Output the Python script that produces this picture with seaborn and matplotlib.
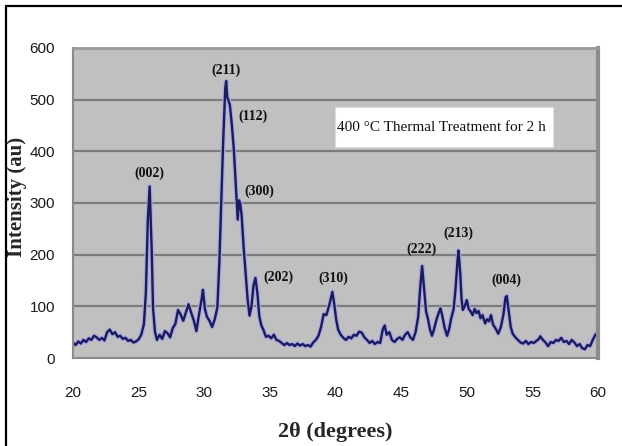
import matplotlib
matplotlib.use("Agg")
import matplotlib.pyplot as plt
import seaborn as sns
import pandas as pd
from matplotlib.patches import Rectangle

# ---- data ----
two_theta = [20.0, 20.2, 20.4, 20.6, 20.8, 21.0, 21.2, 21.4, 21.6, 21.8, 22.0, 22.2, 22.4, 22.6, 22.8,
             23.0, 23.2, 23.4, 23.6, 23.8, 24.0, 24.2, 24.4, 24.6, 24.8, 25.0, 25.2, 25.4, 25.55, 25.7,
             25.84, 26.0, 26.1, 26.25, 26.4, 26.6, 26.8, 27.0, 27.2, 27.4, 27.6, 27.8, 28.0, 28.2, 28.4,
             28.6, 28.8, 29.0, 29.2, 29.4, 29.6, 29.8, 29.9, 30.05, 30.2, 30.4, 30.6, 30.8, 31.0, 31.15,
             31.3, 31.45, 31.6, 31.67, 31.75, 31.85, 31.95, 32.1, 32.25, 32.4, 32.55, 32.65, 32.75, 32.85,
             33.0, 33.15, 33.3, 33.45, 33.6, 33.75, 33.9, 34.05, 34.2, 34.35, 34.5, 34.7, 34.9, 35.1, 35.3,
             35.5, 35.7, 35.9, 36.1, 36.3, 36.5, 36.7, 36.9, 37.1, 37.3, 37.5, 37.7, 37.9, 38.1, 38.3,
             38.5, 38.7, 38.9, 39.1, 39.3, 39.5, 39.6, 39.76, 39.9, 40.05, 40.2, 40.4, 40.6, 40.8, 41.0,
             41.2, 41.4, 41.6, 41.8, 42.0, 42.2, 42.4, 42.6, 42.8, 43.0, 43.2, 43.4, 43.6, 43.75, 43.9,
             44.1, 44.3, 44.5, 44.7, 44.9, 45.1, 45.3, 45.5, 45.7, 45.9, 46.1, 46.3, 46.45, 46.6, 46.75,
             46.9, 47.05, 47.2, 47.35, 47.5, 47.7, 47.9, 48.0, 48.15, 48.3, 48.5, 48.65, 48.8, 49.0, 49.15,
             49.3, 49.37, 49.5, 49.6, 49.7, 49.85, 50.0, 50.15, 50.3, 50.45, 50.6, 50.75, 50.9, 51.05, 51.2,
             51.4, 51.55, 51.7, 51.85, 52.0, 52.2, 52.4, 52.6, 52.8, 52.95, 53.05, 53.2, 53.35, 53.5, 53.7,
             53.9, 54.1, 54.3, 54.5, 54.7, 54.9, 55.1, 55.3, 55.5, 55.6, 55.8, 56.0, 56.2, 56.4, 56.6,
             56.8, 57.0, 57.2, 57.4, 57.6, 57.8, 58.0, 58.2, 58.4, 58.6, 58.8, 59.0, 59.2, 59.4, 59.6,
             59.8, 60.0]
intensity = [30, 25, 32, 28, 35, 31, 38, 35, 43, 40, 35, 39, 34, 50, 55,
             46, 50, 41, 43, 37, 39, 33, 35, 30, 32, 36, 45, 65, 125, 265,
             332, 205, 95, 50, 35, 45, 37, 52, 48, 40, 58, 66, 93, 84, 72,
             88, 104, 88, 73, 52, 84, 114, 132, 95, 80, 72, 60, 75, 98, 185,
             305, 425, 522, 536, 505, 498, 490, 452, 405, 335, 268, 305, 298, 275,
             215, 165, 115, 82, 100, 140, 155, 125, 80, 63, 55, 41, 43, 38, 45,
             35, 33, 29, 25, 29, 25, 27, 23, 28, 24, 27, 23, 25, 22, 30,
             35, 43, 60, 85, 83, 100, 110, 128, 105, 75, 55, 45, 39, 35, 41,
             38, 45, 43, 51, 49, 40, 35, 29, 33, 27, 31, 29, 55, 63, 45,
             50, 35, 31, 37, 40, 35, 45, 50, 40, 35, 50, 80, 135, 178, 135,
             90, 75, 55, 43, 55, 75, 90, 96, 80, 60, 43, 55, 75, 95, 135,
             190, 208, 165, 115, 93, 100, 112, 95, 90, 83, 95, 87, 91, 77, 83,
             67, 75, 71, 83, 65, 57, 47, 60, 85, 117, 120, 90, 60, 47, 40,
             35, 30, 28, 33, 27, 31, 29, 33, 37, 42, 35, 30, 23, 31, 29,
             35, 33, 39, 31, 33, 27, 35, 30, 23, 27, 19, 17, 25, 23, 35,
             45, 50]

peak_labels = ["(002)", "(211)", "(112)", "(300)", "(202)", "(310)", "(222)", "(213)", "(004)"]
label_x = [25.84, 31.68, 33.7, 34.2, 35.62, 39.8, 46.53, 49.4, 53.04]
label_y = [358, 557, 467, 322, 157, 154, 211, 241, 151]

x_ticks = [20, 25, 30, 35, 40, 45, 50, 55, 60]
y_ticks = [0, 100, 200, 300, 400, 500, 600]
note_text = "400 \u00b0C Thermal Treatment for 2 h"
x_label = "2\u03b8 (degrees)"
y_label = "Intensity (au)"

df = pd.DataFrame({"two_theta": two_theta, "intensity": intensity})

sns.set_theme(style="white")
plt.rcParams["font.family"] = ["Liberation Sans", "DejaVu Sans"]

fig = plt.figure(figsize=(6.22, 4.46), dpi=100)
fig.patch.set_facecolor("white")
ax = fig.add_axes([73 / 622, 1 - 358 / 446, (598 - 73) / 622, (358 - 48) / 446])
ax.set_facecolor("#c0c0c0")

# halo + main line
sns.lineplot(data=df, x="two_theta", y="intensity", ax=ax, color="#a8a8dc",
             linewidth=3.4, estimator=None, sort=False, legend=False)
sns.lineplot(data=df, x="two_theta", y="intensity", ax=ax, color="#1a1a5e",
             linewidth=1.7, estimator=None, sort=False, legend=False)

ax.set_xlim(20, 60)
ax.set_ylim(0, 600)
ax.set_xticks(x_ticks)
ax.set_yticks(y_ticks)
ax.set_xticklabels([str(v) for v in x_ticks], fontsize=11, color="#1a1a1a")
ax.set_yticklabels([str(v) for v in y_ticks], fontsize=11, color="#1a1a1a")
ax.tick_params(axis="x", direction="out", length=5, width=1.2, color="#808080", pad=15)
ax.tick_params(axis="y", direction="out", length=4, width=1.2, color="#808080", pad=9)

for yv in y_ticks[1:]:
    ax.axhline(yv, color="#7c7c7c", linewidth=1.6, zorder=0.5)

for side in ["left", "bottom"]:
    ax.spines[side].set_color("#8a8a8a")
    ax.spines[side].set_linewidth(1.5)
ax.spines["right"].set_color("#8c8c8c")
ax.spines["right"].set_linewidth(3)
ax.spines["top"].set_color("#9a9a9a")
ax.spines["top"].set_linewidth(2)

ax.set_xlabel(x_label, fontsize=16, fontweight="bold", family=["Liberation Serif", "DejaVu Serif"])
ax.xaxis.set_label_coords(0.5, -0.205)
ax.set_ylabel(y_label, fontsize=15, fontweight="bold", family=["Liberation Serif", "DejaVu Serif"])
ax.yaxis.set_label_coords(-0.087, 0.52)

for t, lx, ly in zip(peak_labels, label_x, label_y):
    ax.text(lx, ly, t, ha="center", va="center", fontsize=10, fontweight="bold",
            family=["Liberation Serif", "DejaVu Serif"], color="#111111", zorder=5)

ax.add_patch(Rectangle((39.96, 408), 16.6, 78, facecolor="white", edgecolor="#dddddd",
                       linewidth=0.8, zorder=4))
ax.text(48.1, 447, note_text, ha="center", va="center", fontsize=11,
        family=["Liberation Serif", "DejaVu Serif"], color="#111111", zorder=5)

# outer frame of the original image
fig.patches.append(Rectangle((6 / 622, -0.2), 1.2, 1.2 - 6 / 446, transform=fig.transFigure,
                             fill=False, edgecolor="black", linewidth=1.6, figure=fig))

fig.savefig("out.png", dpi=100)
